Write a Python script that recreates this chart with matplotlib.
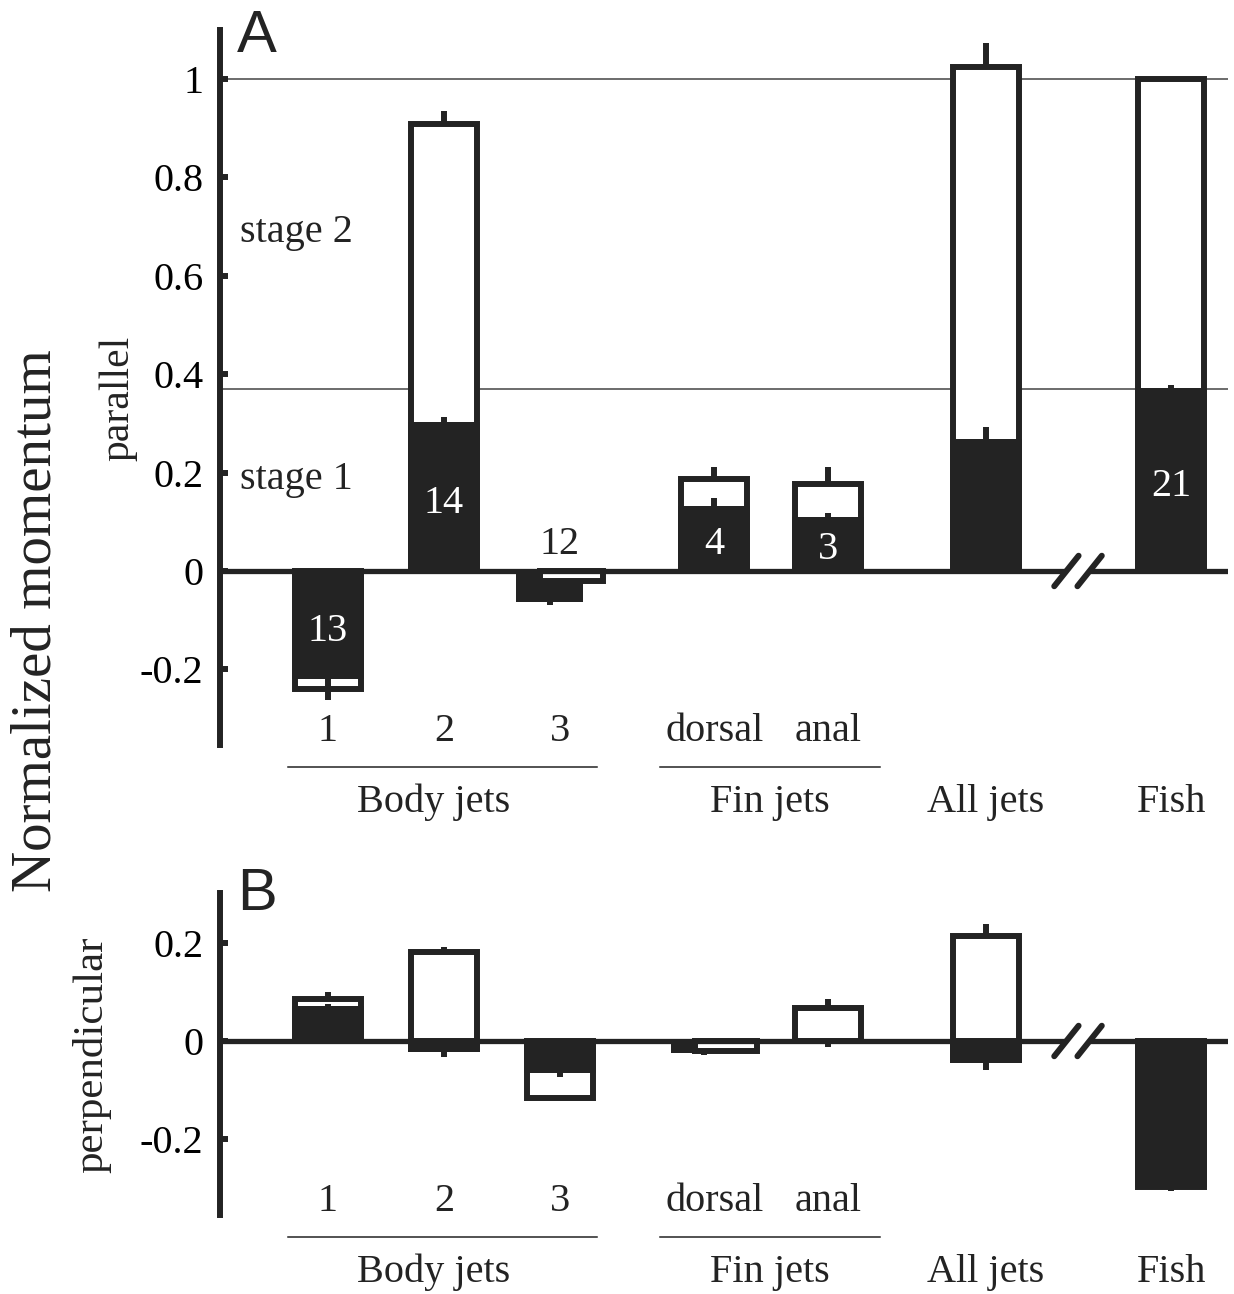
import matplotlib.pyplot as plt
import numpy as np

# values (stage 1 = black, total = outlined box)
bar_labels = ['1', '2', '3', 'dorsal', 'anal']
group_labels = ['Body jets', 'Fin jets', 'All jets', 'Fish']
counts = [13, 14, 12, 4, 3, None, 21]

par_stage1 = [-0.220, 0.303, -0.063, 0.133, 0.109, 0.268, 0.372]
par_stage1_err = [0.020, 0.010, 0.007, 0.015, 0.008, 0.025, 0.006]
par_total = [-0.240, 0.909, -0.021, 0.187, 0.177, 1.024, 1.000]
par_total_err = [0.022, 0.025, 0.0, 0.025, 0.035, 0.050, 0.0]

perp_stage1 = [0.071, -0.023, -0.066, -0.024, -0.002, -0.044, -0.296]
perp_stage1_err = [0.004, 0.010, 0.007, 0.004, 0.010, 0.015, 0.008]
perp_total = [0.085, 0.181, -0.116, -0.020, 0.067, 0.213, -0.296]
perp_total_err = [0.015, 0.011, 0.0, 0.0, 0.018, 0.025, 0.0]

# layout
xpos = [1, 2, 3, 4.33, 5.31, 6.67, 8.27]
count_y = [-0.124, 0.138, 0.053, 0.053, 0.043, None, 0.171]
group_x = [1.914, 4.81, 6.67, 8.27]
group_lines = [(0.655, 3.319), (3.862, 5.759)]
break_x = 7.466
dark = '#232323'
lw = 4.3
serif = 'Liberation Serif'
sans = 'Liberation Sans'

W, H = 1234, 1294
fig = plt.figure(figsize=(W / 100, H / 100), dpi=100)


def px_axes(top, bottom):
    return fig.add_axes([220 / W, 1 - bottom / H, 1008 / W, (bottom - top) / H])


def draw_panel(ax, stage1, s1err, total, terr, ylim, yticks, ytlabels):
    ax.set_xlim(0.069, 8.759)
    ax.set_ylim(*ylim)
    for s in ['top', 'right', 'bottom']:
        ax.spines[s].set_visible(False)
    ax.spines['left'].set_linewidth(lw)
    ax.spines['left'].set_color(dark)
    ax.set_xticks([])
    ax.set_yticks(yticks)
    ax.set_yticklabels(ytlabels, family=serif, fontsize=29)
    ax.tick_params(axis='y', direction='in', length=6, width=lw, color=dark, pad=12)
    for i, x in enumerate(xpos):
        s1, t = stage1[i], total[i]
        shifted = np.sign(s1) == np.sign(t) and abs(t) < abs(s1)
        if shifted:
            xb, wb, xo, wo = x - 0.09, 0.57, x + 0.10, 0.54
            zb, zo = 2, 3
        else:
            xb, wb, xo, wo = x, 0.62, x, 0.569
            zb, zo = 3, 2
        ax.bar(xo, t, width=wo, facecolor='white', edgecolor=dark, linewidth=lw, zorder=zo)
        ax.bar(xb, s1, width=wb, color=dark, linewidth=0, zorder=zb)
        if s1err[i] > 0:
            ax.plot([xb, xb], [s1, s1 + np.sign(s1) * s1err[i]], color=dark, lw=lw,
                    solid_capstyle='butt', zorder=5)
        if terr[i] > 0:
            ax.plot([xo, xo], [t, t + np.sign(t) * terr[i]], color=dark, lw=lw,
                    solid_capstyle='butt', zorder=5)
    ax.axhline(0, color=dark, lw=3.8, zorder=4)
    # axis break
    ax.plot([break_x - 0.1, break_x + 0.1], [0, 0], color='white', lw=8, zorder=5,
            solid_capstyle='butt')
    for dx in (-0.1, 0.1):
        ax.plot([break_x + dx - 0.105, break_x + dx + 0.105], [-0.031, 0.031],
                color=dark, lw=lw, zorder=6, solid_capstyle='round')
    # category labels
    for x, lab in zip(xpos[:5], bar_labels):
        ax.text(x, -0.326, lab, ha='center', va='center', family=serif, fontsize=29,
                color=dark)
    for x0, x1 in group_lines:
        ax.plot([x0, x1], [-0.399, -0.399], color=dark, lw=1.1, clip_on=False)
    for x, lab in zip(group_x, group_labels):
        ax.text(x, -0.471, lab, ha='center', va='center', family=serif, fontsize=29,
                color=dark, clip_on=False)


axA = px_axes(30, 745)
draw_panel(axA, par_stage1, par_stage1_err, par_total, par_total_err,
           (-0.3537, 1.0996), [-0.2, 0, 0.2, 0.4, 0.6, 0.8, 1.0],
           ['-0.2', '0', '0.2', '0.4', '0.6', '0.8', '1'])
axA.axhline(1.0, color='#444444', lw=1.1, zorder=1)
axA.axhline(0.37, color='#444444', lw=1.1, zorder=1)
for i, n in enumerate(counts):
    if n is None:
        continue
    col = dark if n == 12 else 'white'
    axA.text(xpos[i], count_y[i], str(n), ha='center', va='center', family=serif,
             fontsize=29, color=col, zorder=7)
axA.text(0.241, 0.689, 'stage 2', ha='left', va='center', family=serif, fontsize=29, color=dark)
axA.text(0.241, 0.185, 'stage 1', ha='left', va='center', family=serif, fontsize=29, color=dark)

axB = px_axes(893, 1215)
draw_panel(axB, perp_stage1, perp_stage1_err, perp_total, perp_total_err,
           (-0.3537, 0.3008), [-0.2, 0, 0.2], ['-0.2', '0', '0.2'])

fig.text(237 / W, 1 - 37 / H, 'A', ha='left', va='center', family=sans, fontsize=43, color=dark)
fig.text(237 / W, 1 - 894 / H, 'B', ha='left', va='center', family=sans, fontsize=43, color=dark)
fig.text(118 / W, 1 - 398 / H, 'parallel', rotation=90, ha='center', va='center',
         family=serif, fontsize=30, color=dark)
fig.text(92 / W, 1 - 1055 / H, 'perpendicular', rotation=90, ha='center', va='center',
         family=serif, fontsize=31, color=dark)
fig.text(37 / W, 1 - 621 / H, 'Normalized momentum', rotation=90, ha='center', va='center',
         family=serif, fontsize=41, color=dark)

fig.savefig('out.png', dpi=100)
